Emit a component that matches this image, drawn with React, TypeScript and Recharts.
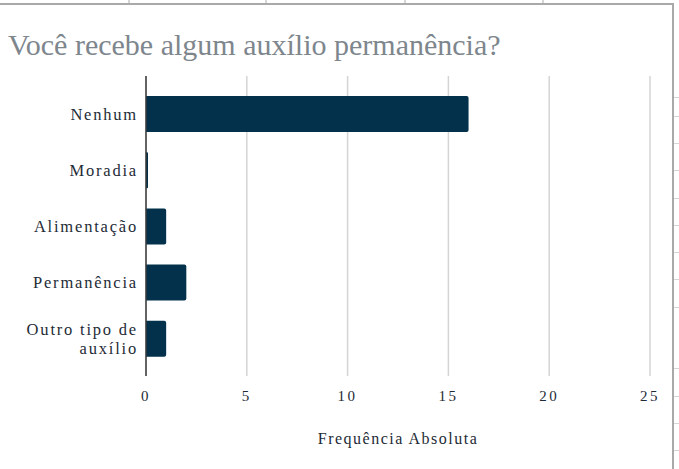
import { BarChart, Bar, XAxis, YAxis, CartesianGrid, Label } from 'recharts'

const categories = ['Nenhum', 'Moradia', 'Alimentação', 'Permanência', 'Outro tipo de\nauxílio']
const counts = [16, 0, 1, 2, 1]
const xTicks = [0, 5, 10, 15, 20, 25]

const data = categories.map((name, i) => ({ name, count: counts[i] }))

const serif = '"Liberation Serif", "Times New Roman", serif'
const textColor = '#1e2b36'

// spreadsheet bits around the chart object
const columnEdges = [128, 265, 404, 542]
const rowEdges = [97, 116, 143, 170, 198, 225, 252, 279, 307, 368, 396, 423, 450]

function CategoryTick({ x, y, payload }: any) {
  const lines = String(payload.value).split('\n')
  const lineHeight = 19
  const first = -((lines.length - 1) * lineHeight) / 2
  return (
    <text
      x={x}
      y={y}
      textAnchor="end"
      fill={textColor}
      fontFamily={serif}
      fontSize={16.5}
      style={{ letterSpacing: '1.8px' }}
    >
      {lines.map((line, i) => (
        <tspan key={i} x={x} dy={i === 0 ? first + 5.5 : lineHeight}>
          {line}
        </tspan>
      ))}
    </text>
  )
}

export default function App() {
  return (
    <div style={{ position: 'absolute', left: 0, top: 0, width: 679, height: 469, background: '#fff', overflow: 'hidden' }}>
      {columnEdges.map((x) => (
        <div key={x} style={{ position: 'absolute', left: x, top: 0, width: 2, height: 4, background: '#d6d6d6' }} />
      ))}
      <div style={{ position: 'absolute', left: 0, top: 3, width: 674, height: 2, background: '#a9a9a9' }} />
      <div style={{ position: 'absolute', left: 672, top: 3, width: 2, height: 466, background: '#a9a9a9' }} />
      {rowEdges.map((y) => (
        <div key={y} style={{ position: 'absolute', left: 674, top: y, width: 5, height: 1, background: '#d6d6d6' }} />
      ))}
      <div
        style={{
          position: 'absolute',
          left: 8,
          top: 30,
          fontFamily: serif,
          fontSize: 30,
          lineHeight: '30px',
          color: '#7e868d',
          whiteSpace: 'nowrap',
        }}
      >
        Você recebe algum auxílio permanência?
      </div>
      <div style={{ position: 'absolute', left: 0, top: 0 }}>
        <BarChart
          width={679}
          height={469}
          data={data}
          layout="vertical"
          margin={{ top: 76, right: 29, bottom: 0, left: 0 }}
        >
          <CartesianGrid horizontal={false} stroke="#d4d4d4" strokeWidth={1.5} />
          <XAxis
            type="number"
            domain={[0, 25]}
            ticks={xTicks}
            height={93}
            axisLine={false}
            tickLine={false}
            tickMargin={8}
            tick={{ fill: textColor, fontSize: 15, fontFamily: serif, style: { letterSpacing: '2.5px' } }}
          >
            <Label
              value="Frequência Absoluta"
              position="insideBottom"
              offset={25}
              fill={textColor}
              fontSize={16}
              fontFamily={serif}
              style={{ letterSpacing: '1.5px' }}
            />
          </XAxis>
          <YAxis
            type="category"
            dataKey="name"
            width={146}
            padding={{ top: 10, bottom: 9 }}
            axisLine={{ stroke: '#3a3a3a', strokeWidth: 1.5 }}
            tickLine={false}
            tickMargin={2}
            tick={<CategoryTick />}
            interval={0}
          />
          <Bar
            dataKey="count"
            fill="#03304b"
            barSize={36}
            radius={[0, 2, 2, 0]}
            minPointSize={2}
            isAnimationActive={false}
          />
        </BarChart>
      </div>
    </div>
  )
}
